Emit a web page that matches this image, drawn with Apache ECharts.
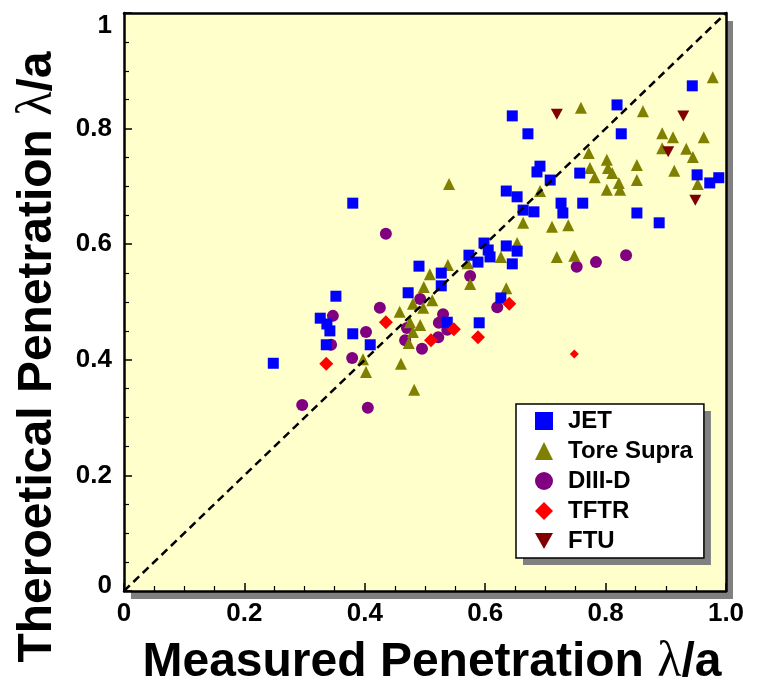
<!DOCTYPE html>
<html>
<head>
<meta charset="utf-8">
<script src="https://cdn.jsdelivr.net/npm/echarts@6/dist/echarts.min.js"></script>
<style>
html,body{margin:0;padding:0;background:#fff;}
#chart{width:763px;height:687px;}
</style>
</head>
<body>
<div id="chart"></div>
<script>
// ---- data (measured, theoretical) ----
var jetX = [0.248,0.380,0.352,0.326,0.337,0.342,0.336,0.380,0.409,0.472,0.490,0.527,0.527,0.537,0.573,0.588,0.598,0.605,0.608,0.590,0.626,0.635,0.653,0.645,0.635,0.653,0.663,0.681,0.645,0.671,0.691,0.686,0.708,0.726,0.729,0.762,0.757,0.819,0.826,0.852,0.889,0.944,0.952,0.973,0.988];
var jetY = [0.394,0.671,0.510,0.472,0.462,0.450,0.426,0.445,0.426,0.516,0.562,0.550,0.528,0.465,0.581,0.569,0.602,0.590,0.578,0.464,0.507,0.597,0.588,0.566,0.692,0.682,0.659,0.656,0.822,0.791,0.735,0.725,0.711,0.671,0.654,0.671,0.723,0.841,0.791,0.654,0.637,0.874,0.720,0.706,0.715];

var toreX = [0.508,0.498,0.458,0.480,0.497,0.475,0.492,0.480,0.473,0.512,0.397,0.402,0.460,0.482,0.538,0.571,0.575,0.540,0.691,0.663,0.711,0.738,0.653,0.626,0.719,0.748,0.635,0.978,0.862,0.759,0.894,0.912,0.963,0.894,0.934,0.945,0.914,0.772,0.802,0.804,0.811,0.774,0.782,0.822,0.824,0.802,0.852,0.852,0.953];
var toreY = [0.548,0.526,0.483,0.497,0.490,0.465,0.460,0.448,0.429,0.503,0.401,0.379,0.393,0.348,0.564,0.567,0.531,0.704,0.692,0.637,0.630,0.633,0.602,0.578,0.578,0.580,0.524,0.889,0.830,0.836,0.792,0.785,0.785,0.766,0.765,0.751,0.727,0.758,0.746,0.732,0.723,0.732,0.716,0.706,0.694,0.694,0.737,0.711,0.704];

var diiidX = [0.435,0.347,0.425,0.402,0.344,0.379,0.296,0.405,0.492,0.470,0.467,0.495,0.530,0.523,0.522,0.537,0.575,0.620,0.752,0.784,0.834];
var diiidY = [0.618,0.476,0.490,0.448,0.426,0.403,0.322,0.317,0.505,0.455,0.434,0.419,0.479,0.464,0.439,0.452,0.545,0.491,0.561,0.569,0.581];

var tftrX = [0.336,0.435,0.510,0.548,0.588,0.640,0.748];
var tftrY = [0.393,0.465,0.434,0.453,0.439,0.497,0.410];

var ftuX = [0.719,0.929,0.904,0.949];
var ftuY = [0.825,0.822,0.760,0.676];

var identityLine = [0, 1];

var seriesNames = ['JET','Tore Supra','DIII-D','TFTR','FTU'];
var xTickLabels = ['0','0.2','0.4','0.6','0.8','1.0'];
var yTickLabels = ['0','0.2','0.4','0.6','0.8','1'];

function pairs(xs, ys){ return xs.map(function(x,i){ return [x, ys[i]]; }); }

var downTri = 'path://M0,0 L10,0 L5,9 Z';

var chart = echarts.init(document.getElementById('chart'), null, {renderer:'canvas'});
var font = 'Liberation Sans, Arial, sans-serif';

var axisCommon = {
  min: 0, max: 1, interval: 0.2,
  axisLine: {show:true, onZero:false, lineStyle:{color:'#000', width:2.5}},
  axisTick: {show:true, inside:true, length:8, lineStyle:{color:'#000', width:1.5}},
  minorTick: {show:true, splitNumber:4, length:5, lineStyle:{color:'#000', width:1.2}},
  splitLine: {show:false}
};
var borderAxis = {
  type: 'value', min: 0, max: 1, interval: 0.2,
  axisLine: {show:true, onZero:false, lineStyle:{color:'#000', width:2.5}},
  axisTick: {show:false}, axisLabel: {show:false}, splitLine: {show:false}
};

var legendBase = {
  orient: 'vertical',
  data: seriesNames,
  padding: [5, 11, 5, 19],
  itemWidth: 18, itemHeight: 18, itemGap: 6,
  textStyle: {fontFamily: font, fontWeight: 'bold', fontSize: 24, color: '#000', padding: [0,0,0,10]}
};

chart.setOption({
  animation: false,
  backgroundColor: '#ffffff',
  grid: {
    left: 124, top: 13, right: 37, bottom: 96,
    outerBoundsMode: 'none', containLabel: false,
    show: true, backgroundColor: '#FFFFCC',
    borderWidth: 0,
    shadowColor: '#808080', shadowOffsetX: 7, shadowOffsetY: 8, shadowBlur: 0
  },
  legend: [
    Object.assign({}, legendBase, {
      left: 516, top: 404, z: 20,
      backgroundColor: '#ffffff', borderColor: '#000', borderWidth: 1.5, borderRadius: 0
    }),
    Object.assign({}, legendBase, {
      left: 523, top: 411, z: 19, silent: true,
      backgroundColor: '#808080', borderWidth: 0,
      itemStyle: {opacity: 0},
      textStyle: Object.assign({}, legendBase.textStyle, {color: 'rgba(0,0,0,0)'})
    })
  ],
  xAxis: [
    Object.assign({}, axisCommon, {
      type: 'value', position: 'bottom',
      name: 'Measured Penetration {l|λ}/a',
      nameLocation: 'middle', nameGap: 47,
      nameTextStyle: {fontFamily: font, fontWeight: 'bold', fontSize: 48, color: '#000', padding:[0,0,0,14],
        rich: {l: {fontFamily: 'Liberation Serif, serif', fontWeight: 'normal', fontSize: 50, color:'#000'}}},
      axisLabel: {margin: 10, fontFamily: font, fontWeight: 'bold', fontSize: 26, color: '#000',
        formatter: function(v){ return xTickLabels[Math.round(v/0.2)]; }}
    }),
    Object.assign({}, borderAxis, {position: 'top'})
  ],
  yAxis: [
    Object.assign({}, axisCommon, {
      type: 'value', position: 'left',
      name: 'Theroetical Penetration {l|λ}/a',
      nameLocation: 'middle', nameGap: 61,
      nameTextStyle: {fontFamily: font, fontWeight: 'bold', fontSize: 48, color: '#000', padding:[0,110,0,0],
        rich: {l: {fontFamily: 'Liberation Serif, serif', fontWeight: 'normal', fontSize: 50, color:'#000'}}},
      axisLabel: {margin: 12, fontFamily: font, fontWeight: 'bold', fontSize: 26, color: '#000',
        verticalAlignMaxLabel: 'top',
        formatter: function(v){
          var s = yTickLabels[Math.round(v/0.2)];
          return v === 0 ? '{lo|' + s + '}' : s;
        },
        rich: {lo: {fontFamily: font, fontWeight: 'bold', fontSize: 26, color: '#000', padding: [0,0,10,0]}}}
    }),
    Object.assign({}, borderAxis, {position: 'right'})
  ],
  series: [
    {name:'DIII-D', type:'scatter', symbol:'circle', symbolSize:12, z:2,
      itemStyle:{color:'#800080', opacity:1}, data: pairs(diiidX, diiidY)},
    {name:'Tore Supra', type:'scatter', symbol:'triangle', symbolSize:12, z:3,
      itemStyle:{color:'#808000', opacity:1}, data: pairs(toreX, toreY)},
    {name:'JET', type:'scatter', symbol:'rect', symbolSize:11, z:4,
      itemStyle:{color:'#0000FF', opacity:1}, data: pairs(jetX, jetY)},
    {name:'TFTR', type:'scatter', symbol:'diamond', z:5,
      symbolSize: function(v, p){ return p.dataIndex === tftrX.length - 1 ? 9 : 14; },
      itemStyle:{color:'#FF0000', opacity:1}, data: pairs(tftrX, tftrY)},
    {name:'FTU', type:'scatter', symbol:downTri, symbolSize:[12,11], z:6,
      itemStyle:{color:'#800000', opacity:1}, data: pairs(ftuX, ftuY)},
    {name:'identity', type:'line', z:10, symbol:'none', silent:true,
      lineStyle:{color:'#000', width:2.5, type:[8,5]},
      data: identityLine.map(function(v){ return [v, v]; })}
  ]
});
</script>
</body>
</html>
